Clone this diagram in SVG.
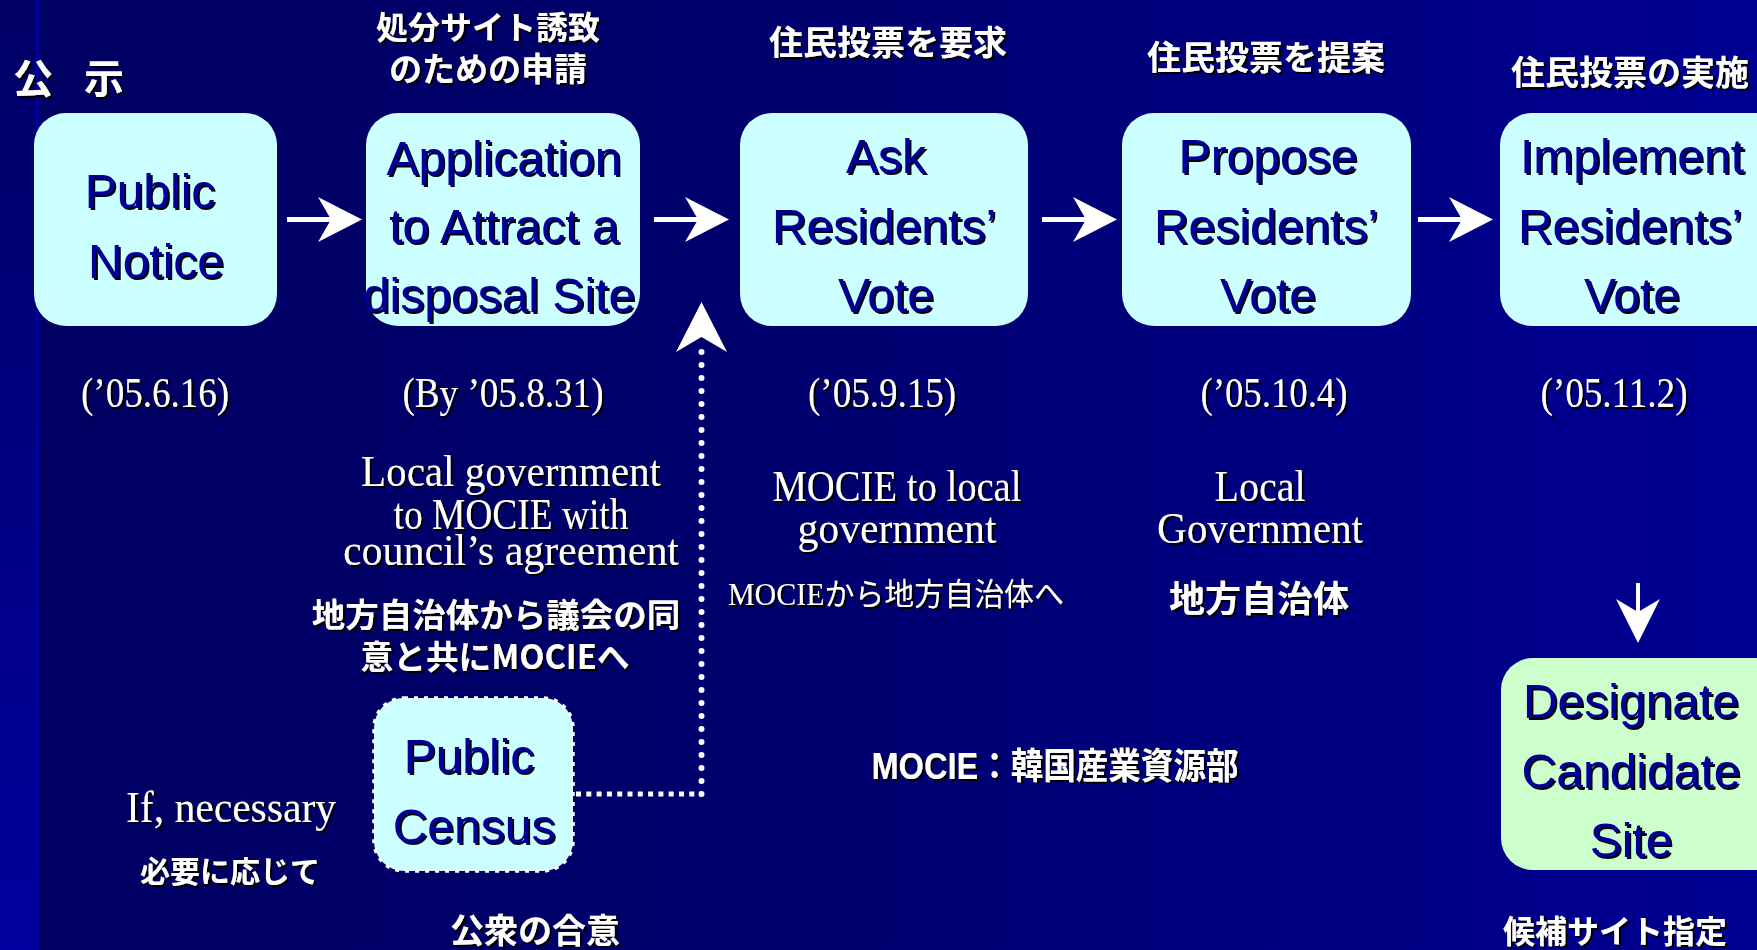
<svg xmlns="http://www.w3.org/2000/svg" width="1757" height="950" viewBox="0 0 1757 950">
<defs>
<linearGradient id="bg" x1="0" y1="0" x2="1757" y2="0" gradientUnits="userSpaceOnUse">
<stop offset="0" stop-color="#000062"/>
<stop offset="0.45" stop-color="#00006E"/>
<stop offset="1" stop-color="#000092"/>
</linearGradient>
<linearGradient id="strip" x1="0" y1="0" x2="0" y2="1">
<stop offset="0" stop-color="#000066"/>
<stop offset="1" stop-color="#00009E"/>
</linearGradient>
<filter id="sh" x="-10%" y="-20%" width="130%" height="150%">
<feDropShadow dx="2" dy="2" stdDeviation="0.4" flood-color="#000000" flood-opacity="1"/>
</filter>
<g id="rarrow">
<rect x="-75" y="-2.5" width="46" height="5" fill="#FFFFFF"/>
<path d="M0,0 L-44,-22.5 L-31,0 L-44,22.5 Z" fill="#FFFFFF"/>
</g>
</defs>
<style>
.box{fill:#CCFFFF;stroke:none}
.green{fill:#CCFFCC}
.nt{font-family:"Liberation Sans",Arial,sans-serif;font-size:48px;fill:#000099;text-anchor:middle;filter:url(#sh)}
.jp{font-family:"Noto Sans CJK JP","Noto Sans CJK SC",sans-serif;font-weight:bold;fill:#FFFFFF;text-anchor:middle;filter:url(#sh)}
.en{font-family:"Liberation Serif","Times New Roman",serif;fill:#FFFFFF;text-anchor:middle;filter:url(#sh)}
.date{font-size:42px}
.body{font-size:45px}
</style>
<rect x="0" y="0" width="1757" height="950" fill="url(#bg)"/>
<rect x="0" y="0" width="36" height="950" fill="url(#strip)"/>
<rect x="36" y="0" width="2.5" height="950" fill="#0000B0"/>

<g id="connectors">
<use href="#rarrow" x="362" y="219.5"/>
<use href="#rarrow" x="729" y="219.5"/>
<use href="#rarrow" x="1117" y="219.5"/>
<use href="#rarrow" x="1493" y="219.5"/>
<path d="M576,794 H702" stroke="#FFFFFF" stroke-width="5" stroke-dasharray="5 5.3" fill="none"/>
<path d="M701.5,794 V345" stroke="#FFFFFF" stroke-width="6" stroke-linecap="round" stroke-dasharray="0 13" fill="none"/>
<path d="M701.5,302 L676,352 L701.5,337 L727,352 Z" fill="#FFFFFF"/>
<rect x="1636" y="583" width="4" height="32" fill="#FFFFFF"/>
<path d="M1638,643 L1616,599 L1638,612 L1660,599 Z" fill="#FFFFFF"/>
</g>

<g id="label-koji"><text class="jp" x="13" y="93" font-size="40" style="text-anchor:start" xml:space="preserve" word-spacing="22">公 示</text></g>
<g id="label-shobun">
<text class="jp" x="488" y="39" font-size="32">処分サイト誘致</text>
<text class="jp" x="488" y="81" font-size="33">のための申請</text>
</g>
<g id="label-yokyu"><text class="jp" x="888" y="55" font-size="34">住民投票を要求</text></g>
<g id="label-teian"><text class="jp" x="1266" y="70" font-size="34">住民投票を提案</text></g>
<g id="label-jisshi"><text class="jp" x="1630" y="85" font-size="34">住民投票の実施</text></g>

<g id="node-public-notice">
<rect class="box" x="34" y="113" width="243" height="213" rx="32"/>
<text class="nt" x="150" y="208">Public</text>
<text class="nt" x="156" y="278">Notice</text>
</g>
<g id="node-application">
<rect class="box" x="366" y="113" width="274" height="213" rx="32"/>
<text class="nt" x="504" y="175">Application</text>
<text class="nt" x="504" y="243">to Attract a</text>
<text class="nt" x="499" y="312">disposal Site</text>
</g>
<g id="node-ask">
<rect class="box" x="740" y="113" width="288" height="213" rx="32"/>
<text class="nt" x="886" y="173">Ask</text>
<text class="nt" x="884" y="243">Residents’</text>
<text class="nt" x="886" y="312">Vote</text>
</g>
<g id="node-propose">
<rect class="box" x="1122" y="113" width="289" height="213" rx="32"/>
<text class="nt" x="1268" y="173">Propose</text>
<text class="nt" x="1266" y="243">Residents’</text>
<text class="nt" x="1268" y="312">Vote</text>
</g>
<g id="node-implement">
<rect class="box" x="1500" y="113" width="290" height="213" rx="32"/>
<text class="nt" x="1632" y="173">Implement</text>
<text class="nt" x="1630" y="243">Residents’</text>
<text class="nt" x="1632" y="312">Vote</text>
</g>
<g id="node-designate">
<rect class="box green" x="1501" y="658" width="290" height="212" rx="32"/>
<text class="nt" x="1631" y="718">Designate</text>
<text class="nt" x="1631" y="788">Candidate</text>
<text class="nt" x="1631" y="857">Site</text>
<text class="jp" x="1615" y="943" font-size="32">候補サイト指定</text>
</g>
<g id="node-census">
<rect class="box" x="374" y="698" width="199" height="173" rx="30" stroke="#FFFFFF" stroke-width="3.5" stroke-dasharray="4 6" style="stroke:#FFFFFF"/>
<text class="nt" x="469" y="773">Public</text>
<text class="nt" x="474" y="843">Census</text>
<text class="jp" x="535" y="943" font-size="34">公衆の合意</text>
</g>

<g id="dates">
<text class="en date" x="155" y="407" textLength="148" lengthAdjust="spacingAndGlyphs">(’05.6.16)</text>
<text class="en date" x="503" y="407" textLength="201" lengthAdjust="spacingAndGlyphs">(By ’05.8.31)</text>
<text class="en date" x="882" y="407" textLength="148" lengthAdjust="spacingAndGlyphs">(’05.9.15)</text>
<text class="en date" x="1274" y="407" textLength="147" lengthAdjust="spacingAndGlyphs">(’05.10.4)</text>
<text class="en date" x="1614" y="407" textLength="147" lengthAdjust="spacingAndGlyphs">(’05.11.2)</text>
</g>

<g id="note-application">
<text class="en body" x="511" y="486" textLength="300" lengthAdjust="spacingAndGlyphs">Local government</text>
<text class="en body" x="511" y="529" textLength="235" lengthAdjust="spacingAndGlyphs">to MOCIE with</text>
<text class="en body" x="511" y="565" textLength="336" lengthAdjust="spacingAndGlyphs">council’s agreement</text>
<text class="jp" x="496" y="627" font-size="33.5">地方自治体から議会の同</text>
<text class="jp" x="495" y="669" font-size="33" textLength="269" lengthAdjust="spacingAndGlyphs">意と共にMOCIEへ</text>
</g>
<g id="note-ask">
<text class="en body" x="897" y="501" textLength="249" lengthAdjust="spacingAndGlyphs">MOCIE to local</text>
<text class="en body" x="897" y="543" textLength="199" lengthAdjust="spacingAndGlyphs">government</text>
<text class="en" x="896" y="605" font-size="31" textLength="336" lengthAdjust="spacingAndGlyphs" style="font-family:'Liberation Serif','Noto Sans CJK JP',serif">MOCIEから地方自治体へ</text>
</g>
<g id="note-propose">
<text class="en body" x="1260" y="501" textLength="91" lengthAdjust="spacingAndGlyphs">Local</text>
<text class="en body" x="1260" y="543" textLength="206" lengthAdjust="spacingAndGlyphs">Government</text>
<text class="jp" x="1259" y="612" font-size="36">地方自治体</text>
</g>
<g id="note-census">
<text class="en body" x="231" y="822" textLength="210" lengthAdjust="spacingAndGlyphs">If, necessary</text>
<text class="jp" x="230" y="882" font-size="30">必要に応じて</text>
</g>
<g id="note-mocie">
<text class="jp" x="1055" y="779" font-size="36" textLength="367" lengthAdjust="spacingAndGlyphs" style="font-family:'Liberation Sans','Noto Sans CJK JP',sans-serif">MOCIE：韓国産業資源部</text>
</g>
</svg>
